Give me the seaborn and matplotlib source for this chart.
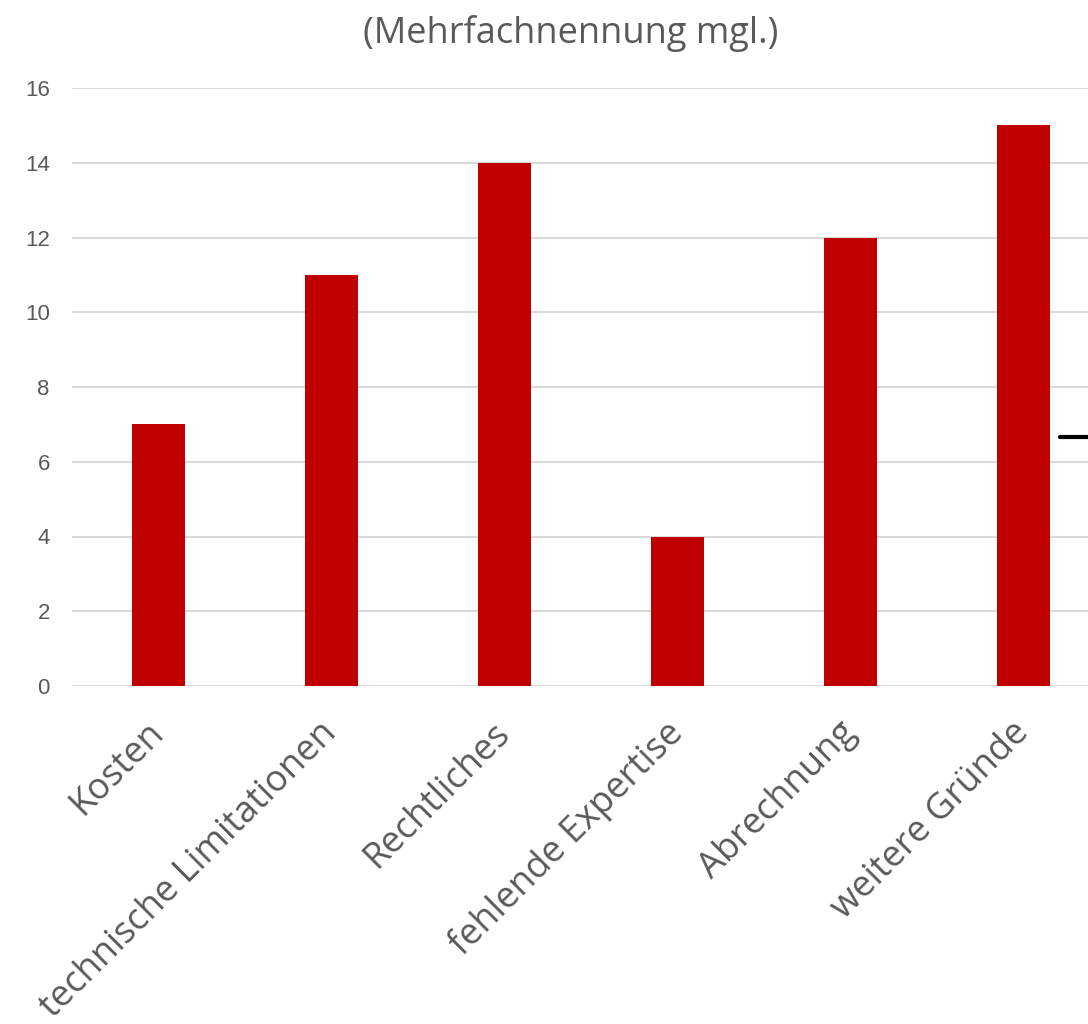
import matplotlib
matplotlib.use("Agg")
import matplotlib.pyplot as plt
import seaborn as sns
import pandas as pd

# --- Data ---
categories = ["Kosten", "technische Limitationen", "Rechtliches",
              "fehlende Expertise", "Abrechnung", "weitere Gründe"]
counts = [7, 11, 14, 4, 12, 15]
y_ticks = [0, 2, 4, 6, 8, 10, 12, 14, 16]
title = "(Mehrfachnennung mgl.)"

BAR_COLOR = "#C00000"
TEXT_COLOR = "#595959"
GRID_COLOR = "#D9D9D9"

df = pd.DataFrame({"category": categories, "count": counts})

sns.set_style("white")
plt.rcParams["font.family"] = ["Open Sans", "DejaVu Sans"]

W, H = 1088, 1024
fig = plt.figure(figsize=(W / 100, H / 100), dpi=100)
# plot area runs past the right edge of the image, as in the reference
ax = fig.add_axes([72 / W, (H - 686) / H, (1110 - 72) / W, (686 - 88) / H])

sns.barplot(data=df, x="category", y="count", color=BAR_COLOR,
            width=0.31, saturation=1, linewidth=0, ax=ax, zorder=3)

ax.set_xlim(-0.5, len(categories) - 0.5)
ax.set_ylim(0, 16)
ax.set_yticks(y_ticks)
ax.yaxis.grid(True, color=GRID_COLOR, linewidth=1.5, zorder=0)
ax.set_axisbelow(True)
for s in ax.spines.values():
    s.set_visible(False)

ax.set_xlabel("")
ax.set_ylabel("")
ax.tick_params(axis="both", length=0)
ax.tick_params(axis="y", pad=16)
ax.tick_params(axis="x", pad=30)
for lab in ax.get_yticklabels():
    lab.set_fontfamily("Liberation Sans")
    lab.set_fontsize(16)
    lab.set_color(TEXT_COLOR)
for lab in ax.get_xticklabels():
    lab.set_rotation(45)
    lab.set_rotation_mode("anchor")
    lab.set_ha("right")
    lab.set_va("center")
    lab.set_fontsize(26)
    lab.set_color(TEXT_COLOR)

# short black legend-like stroke at the right edge
fig.add_artist(plt.Line2D([1060 / W, 1.0], [(H - 437) / H] * 2,
                          color="black", linewidth=3))

fig.text(571 / W, 1 - 33 / H, title, ha="center", va="center",
         fontsize=26, color=TEXT_COLOR)

fig.savefig("out.png", dpi=100)
